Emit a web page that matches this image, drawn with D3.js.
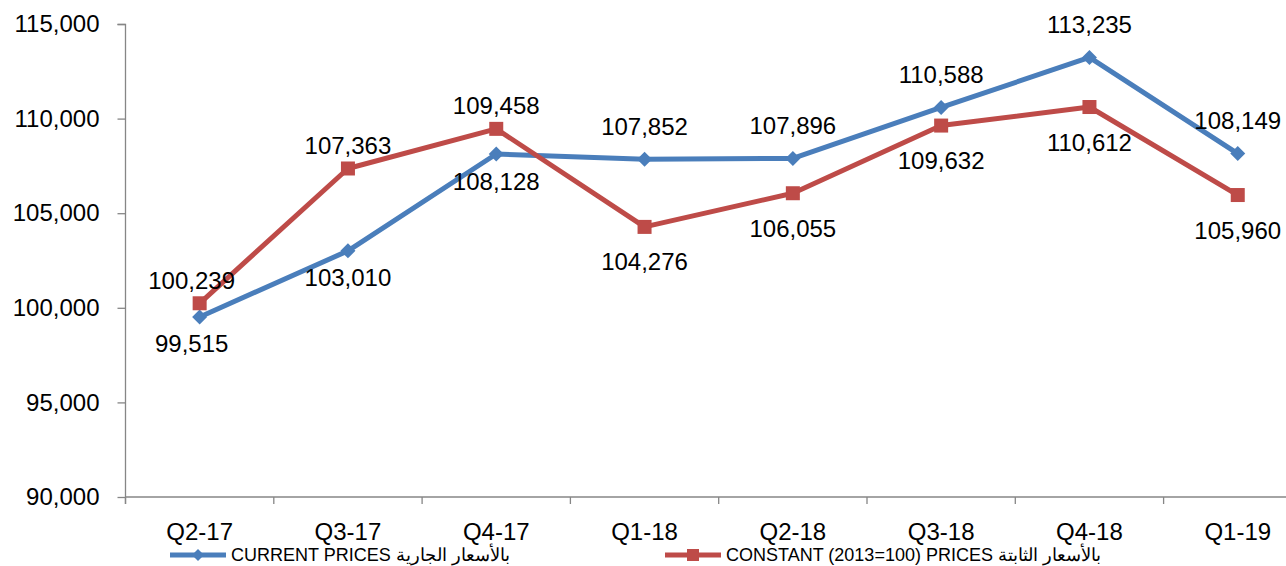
<!DOCTYPE html>
<html><head><meta charset="utf-8">
<script src="https://cdn.jsdelivr.net/npm/d3@7"></script>
<style>
html,body{margin:0;padding:0;background:#fff;}
text{font-family:"Liberation Sans",Arial,sans-serif;fill:#000;}
</style></head>
<body><svg id="c" width="1286" height="566"></svg>
<script>
const categories = ["Q2-17","Q3-17","Q4-17","Q1-18","Q2-18","Q3-18","Q4-18","Q1-19"];
const currentPrices = [99515,103010,108128,107852,107896,110588,113235,108149];
const constantPrices = [100239,107363,109458,104276,106055,109632,110612,105960];
const yTicks = [90000,95000,100000,105000,110000,115000];
const seriesNames = ["CURRENT PRICES بالأسعار  الجارية","CONSTANT (2013=100) PRICES بالأسعار الثابتة"];

const svg = d3.select("#c");
const left = 125.5, step = 148.3;
const x = d3.scaleBand().domain(categories).range([left, left + step*categories.length]).paddingInner(0).paddingOuter(0);
const y = d3.scaleLinear().domain([90000,115000]).range([497,24]);
const axisColor = "#868686";
const fmt = d3.format(",");

// y axis
const ya = svg.append("g").attr("transform",`translate(${left},0)`)
  .call(d3.axisLeft(y).tickValues(yTicks).tickFormat(fmt).tickSize(8).tickPadding(18));
ya.select(".domain").attr("stroke",axisColor).attr("stroke-width",1.3).attr("d",`M-8,24.5H0V504`);
ya.selectAll(".tick line").attr("stroke",axisColor).attr("stroke-width",1.3);
ya.selectAll(".tick text").style("font-size","24px").attr("fill","#000");

// x axis
const xa = svg.append("g").attr("transform",`translate(0,497)`);
xa.append("line").attr("x1",left).attr("x2",1290).attr("y1",0).attr("y2",0).attr("stroke",axisColor).attr("stroke-width",1.3);
const bounds = categories.map((c,i)=>x(c)).concat([x(categories[categories.length-1])+x.bandwidth()]);
xa.selectAll("line.tk").data(bounds).enter().append("line").attr("class","tk")
  .attr("x1",d=>d).attr("x2",d=>d).attr("y1",0).attr("y2",7).attr("stroke",axisColor).attr("stroke-width",1.3);
xa.selectAll("text").data(categories).enter().append("text")
  .attr("x",d=>x(d)+x.bandwidth()/2).attr("y",34).attr("text-anchor","middle").attr("dominant-baseline","central")
  .style("font-size","24px").text(d=>d);

const series = [
  {name:seriesNames[0], values:currentPrices, color:"#4a7ebb", marker:"diamond", other:constantPrices, up:-33, down:27},
  {name:seriesNames[1], values:constantPrices, color:"#be4b48", marker:"square", other:currentPrices, up:-23, down:35}
];
const cx = c => x(c)+x.bandwidth()/2;
const line = d3.line().x((d,i)=>cx(categories[i])).y(d=>y(d));

function drawMarker(g, type, color){
  if(type==="diamond"){
    g.append("path").attr("d","M0,-7.5L7.5,0L0,7.5L-7.5,0Z").attr("fill",color);
  } else {
    g.append("rect").attr("x",-7).attr("y",-7).attr("width",14).attr("height",14).attr("fill",color);
  }
}

series.forEach(s=>{
  svg.append("path").datum(s.values).attr("d",line).attr("fill","none")
    .attr("stroke",s.color).attr("stroke-width",5).attr("stroke-linejoin","round");
});
series.forEach(s=>{
  s.values.forEach((v,i)=>{
    const g = svg.append("g").attr("transform",`translate(${cx(categories[i])},${y(v)})`);
    drawMarker(g,s.marker,s.color);
  });
});
series.forEach(s=>{
  s.values.forEach((v,i)=>{
    const above = v >= s.other[i];
    svg.append("text").attr("x",cx(categories[i]) - (i===0?8:0)).attr("y",y(v)+(above?s.up:s.down))
      .attr("text-anchor","middle").attr("dominant-baseline","central")
      .style("font-size","24px").text(fmt(v));
  });
});

// legend
const legendX = [170, 665];
series.forEach((s,k)=>{
  const g = svg.append("g").attr("transform",`translate(${legendX[k]},555)`);
  g.append("line").attr("x1",0).attr("x2",56).attr("y1",0).attr("y2",0).attr("stroke",s.color).attr("stroke-width",5);
  const m = g.append("g").attr("transform","translate(28,0)");
  if(s.marker==="diamond") m.append("path").attr("d","M0,-6L6,0L0,6L-6,0Z").attr("fill",s.color);
  else m.append("rect").attr("x",-6).attr("y",-6).attr("width",12).attr("height",12).attr("fill",s.color);
  g.append("text").attr("x",61).attr("y",0).attr("dominant-baseline","central").style("font-size","18px").text(s.name);
});
</script></body></html>
